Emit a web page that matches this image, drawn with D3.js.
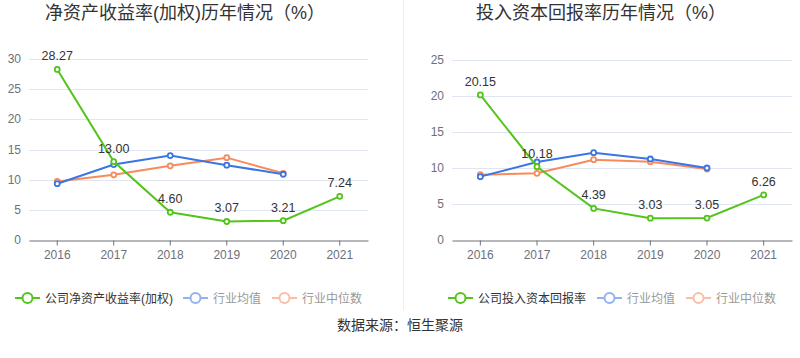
<!DOCTYPE html>
<html>
<head>
<meta charset="utf-8">
<script src="https://cdn.jsdelivr.net/npm/d3@7"></script>
<style>
  body { margin: 0; background: #fff; }
  svg text { font-family: "Liberation Sans", "Noto Sans CJK SC", sans-serif; }
</style>
</head>
<body>
<svg id="chart" width="800" height="358"></svg>
<script>
// 数据
const years = ["2016", "2017", "2018", "2019", "2020", "2021"];

const roeCompany = [28.27, 13.00, 4.60, 3.07, 3.21, 7.24];
const roeMean = [9.33, 12.5, 14.0, 12.4, 10.9];
const roeMedian = [9.7, 10.8, 12.3, 13.65, 11.05];
const roeTicks = [0, 5, 10, 15, 20, 25, 30];

const roicCompany = [20.15, 10.18, 4.39, 3.03, 3.05, 6.26];
const roicMean = [8.8, 10.83, 12.13, 11.25, 10.0];
const roicMedian = [9.07, 9.26, 11.15, 10.88, 9.86];
const roicTicks = [0, 5, 10, 15, 20, 25];

const seriesColors = ["#52c41a", "#3a75e6", "#f88a5b"];

const svg = d3.select("#chart");

// 中间分隔线
svg.append("line")
  .attr("x1", 403.5).attr("x2", 403.5)
  .attr("y1", 0).attr("y2", 310)
  .attr("stroke", "#eeeeee");

// 底部数据来源
svg.append("text")
  .attr("x", 400).attr("y", 330)
  .attr("text-anchor", "middle")
  .attr("font-size", 14)
  .attr("fill", "#333")
  .text("数据来源：恒生聚源");

// 单个折线图
function drawPanel(opt) {
  const g = svg.append("g");

  const x = d3.scaleBand().domain(years).range([opt.left, opt.right]);
  const y = d3.scaleLinear().domain([0, d3.max(opt.ticks)]).range([240, opt.top]);
  const cx = d => x(d) + x.bandwidth() / 2;

  // 标题
  g.append("text")
    .attr("x", opt.titleX).attr("y", 19)
    .attr("text-anchor", "middle")
    .attr("font-size", 18)
    .attr("fill", "#333")
    .text(opt.title);

  // 网格线
  g.selectAll(".grid").data(opt.ticks.slice(1)).enter()
    .append("line")
    .attr("x1", opt.left).attr("x2", opt.right)
    .attr("y1", d => Math.round(y(d)) + 0.5).attr("y2", d => Math.round(y(d)) + 0.5)
    .attr("stroke", "#e0e6f1");

  // y 轴文字
  g.selectAll(".ylab").data(opt.ticks).enter()
    .append("text")
    .attr("x", opt.left - 8).attr("y", d => y(d) + 4)
    .attr("text-anchor", "end")
    .attr("font-size", 12)
    .attr("fill", "#6e7079")
    .text(d => d);

  // x 轴
  const xAxis = g.append("g")
    .attr("transform", "translate(0,240.5)")
    .call(d3.axisBottom(x).tickSize(5).tickSizeOuter(0));
  xAxis.select(".domain").attr("stroke", "#6e7079");
  xAxis.selectAll(".tick line").attr("stroke", "#6e7079");
  xAxis.selectAll(".tick text")
    .attr("font-size", 12)
    .attr("fill", "#6e7079")
    .attr("dy", "0.9em")
    .style("font-family", "'Liberation Sans', sans-serif");

  const line = d3.line().x((d, i) => cx(years[i])).y(d => y(d));

  // 先画行业中位数、行业均值，最后公司
  [[opt.median, seriesColors[2]], [opt.mean, seriesColors[1]], [opt.company, seriesColors[0]]]
    .forEach(([vals, color]) => {
      g.append("path")
        .attr("d", line(vals))
        .attr("fill", "none")
        .attr("stroke", color)
        .attr("stroke-width", 2);
      g.selectAll(null).data(vals).enter()
        .append("circle")
        .attr("cx", (d, i) => cx(years[i]))
        .attr("cy", d => y(d))
        .attr("r", 2.5)
        .attr("fill", "#fff")
        .attr("stroke", color)
        .attr("stroke-width", 1.8);
    });

  // 公司数值标签
  g.selectAll(".vlab").data(opt.company).enter()
    .append("text")
    .attr("x", (d, i) => cx(years[i]))
    .attr("y", d => y(d) - 9)
    .attr("text-anchor", "middle")
    .attr("font-size", 12.5)
    .attr("fill", "#333")
    .text(d => d.toFixed(2));

  // 图例
  const items = [
    { name: opt.legendName, color: seriesColors[0], text: "#333", op: 1 },
    { name: "行业均值", color: seriesColors[1], text: "#999", op: 0.55 },
    { name: "行业中位数", color: seriesColors[2], text: "#999", op: 0.55 }
  ];
  items.forEach((it, i) => {
    const lx = opt.legendX[i];
    const lg = g.append("g").attr("opacity", it.op);
    lg.append("line")
      .attr("x1", lx).attr("x2", lx + 25)
      .attr("y1", 298).attr("y2", 298)
      .attr("stroke", it.color).attr("stroke-width", 2);
    lg.append("circle")
      .attr("cx", lx + 12.5).attr("cy", 298).attr("r", 5)
      .attr("fill", "#fff")
      .attr("stroke", it.color).attr("stroke-width", 2);
    g.append("text")
      .attr("x", lx + 30).attr("y", 302.5)
      .attr("font-size", 12)
      .attr("fill", it.text)
      .text(it.name);
  });
}

drawPanel({
  title: "净资产收益率(加权)历年情况（%）",
  titleX: 185,
  left: 29, right: 368, top: 59,
  ticks: roeTicks,
  company: roeCompany, mean: roeMean, median: roeMedian,
  legendName: "公司净资产收益率(加权)",
  legendX: [15, 183, 272]
});

drawPanel({
  title: "投入资本回报率历年情况（%）",
  titleX: 601,
  left: 452, right: 792, top: 60,
  ticks: roicTicks,
  company: roicCompany, mean: roicMean, median: roicMedian,
  legendName: "公司投入资本回报率",
  legendX: [448, 597, 686]
});
</script>
</body>
</html>
